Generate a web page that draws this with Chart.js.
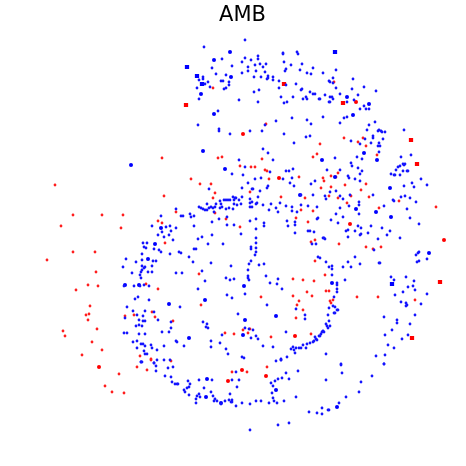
<!DOCTYPE html>
<html>
<head>
<meta charset="utf-8">
<script src="https://cdn.jsdelivr.net/npm/chart.js@4.4.0/dist/chart.umd.min.js"></script>
<style>
  html, body { margin: 0; padding: 0; background: #fff; }
  #scatter { display: block; }
</style>
</head>
<body>
<canvas id="scatter" width="466" height="466"></canvas>
<script>
"use strict";

// values, in the plot's own (unlabelled) units
var blueDots = [
  [245,40],[204,47],[222,59],[245,58],[251,60],[258,56],[258,59],[242,62],[283,54],[283,53],[297,52],[298,54],
  [284,62],[232,66],[212,68],[248,67],[255,65],[260,64],[266,64],[263,67],[291,65],[302,64],[313,68],[286,69],
  [285,71],[300,70],[203,77],[203,79],[199,80],[208,82],[205,84],[216,74],[226,75],[242,73],[248,71],[256,71],
  [265,72],[254,77],[261,77],[268,76],[268,78],[267,79],[273,77],[273,80],[279,81],[286,85],[296,84],[307,73],
  [311,74],[221,81],[223,81],[229,82],[229,85],[197,88],[210,87],[224,89],[226,88],[279,88],[259,90],[254,92],
  [301,90],[302,89],[310,92],[313,94],[315,94],[199,99],[281,97],[293,97],[306,97],[307,99],[303,99],[319,99],
  [239,100],[258,102],[284,103],[287,102],[218,111],[292,118],[307,120],[276,121],[311,124],[198,125],[265,125],
  [219,129],[219,131],[250,131],[262,131],[230,134],[284,134],[306,137],[310,136],[294,143],
  [323,73],[336,70],[333,78],[329,81],[330,82],[333,83],[353,79],[336,88],[352,89],[364,87],[376,91],[325,95],
  [330,97],[332,97],[340,94],[358,95],[320,99],[333,99],[329,102],[330,102],[347,102],[354,100],[364,106],
  [360,109],[366,109],[369,109],[347,117],[344,118],[323,117],[340,123],[375,122],[369,125],[367,130],[378,131],
  [379,130],[382,132],[381,131],[385,132],[404,130],[351,141],[365,139],[373,136],[373,138],[383,139],[371,143],
  [379,143],[360,144],
  [176,209],[161,216],[152,226],[166,227],[170,226],[176,228],[162,232],[171,231],[158,235],[164,237],[169,235],
  [173,240],[143,243],[147,243],[144,247],[146,248],[154,249],[159,250],[161,252],[142,254],[170,254],[179,252],
  [263,149],[268,153],[239,160],[273,160],[245,167],[270,172],[286,171],[289,171],[293,169],[232,174],[243,175],
  [255,179],[261,178],[209,189],[248,183],[242,188],[252,189],[253,189],[260,191],[267,188],[268,186],[283,179],
  [290,183],[292,178],[311,184],[315,181],[294,186],[301,195],[313,195],[199,207],[201,208],[203,209],[205,210],
  [207,210],[207,204],[209,208],[211,207],[213,208],[215,207],[216,204],[220,201],[221,204],[220,208],[224,200],
  [226,200],[228,200],[230,200],[233,197],[235,198],[234,200],[236,198],[239,200],[242,197],[222,207],[226,209],
  [229,208],[234,204],[237,205],[241,204],[233,209],[214,212],[250,199],[258,197],[250,203],[252,202],[256,204],
  [257,203],[250,207],[252,207],[263,205],[271,204],[269,210],[276,208],[280,203],[278,212],[286,206],[292,207],
  [292,211],[301,205],[308,206],[317,207],[297,212],[287,221],[295,222],[295,225],[288,226],[317,219],[318,218],
  [295,233],[308,231],[310,231],[314,232],[312,244],[316,244],[181,216],[183,216],[190,214],[191,217],[194,216],
  [194,226],[212,222],[219,219],[227,217],[227,225],[234,225],[250,221],[256,219],[264,223],[264,226],[256,229],
  [241,234],[212,235],[202,237],[198,239],[256,238],[256,243],[251,247],[251,249],[256,248],[256,252],[208,244],
  [223,244],[194,249],[196,249],[181,253],
  [378,146],[380,146],[379,152],[335,158],[357,157],[362,159],[401,157],[411,155],[351,163],[352,166],[358,168],
  [362,171],[340,170],[327,170],[348,176],[349,178],[360,174],[355,179],[360,181],[336,191],[330,192],[325,196],
  [326,199],[340,196],[343,199],[350,195],[373,195],[349,206],[359,202],[359,205],[340,208],[384,206],[359,214],
  [336,214],[343,217],[331,220],[338,223],[358,226],[361,228],[371,226],[382,228],[346,231],[348,230],[355,231],
  [361,234],[360,235],[368,233],[390,231],[387,235],[348,237],[323,238],[325,239],[324,238],[378,239],[400,238],
  [374,250],[419,252],[418,253],[391,174],[394,175],[395,175],[400,175],[396,170],[398,167],[400,166],[403,171],
  [407,171],[408,171],[404,165],[405,164],[403,164],[421,179],[412,183],[414,187],[427,185],[404,186],[401,197],
  [405,196],[410,198],[416,202],[393,200],[394,201],[407,209],[410,218],[419,224],
  [126,259],[136,262],[142,260],[153,261],[156,261],[123,267],[132,273],[142,266],[144,268],[145,267],[142,270],
  [141,272],[148,272],[152,266],[152,272],[140,275],[141,278],[176,273],[124,286],[134,286],[140,286],[144,285],
  [149,286],[138,297],[135,299],[149,300],[127,307],[133,311],[145,311],[154,312],[125,318],[137,315],[143,316],
  [158,320],[139,320],[143,321],[145,321],[171,322],[139,325],[142,326],[136,326],[171,328],[124,333],[127,333],
  [139,334],[145,334],[162,332],[169,332],[133,342],[137,341],[141,344],[143,344],[137,348],[145,346],[151,345],
  [152,348],[164,346],[176,341],[177,342],[144,351],[145,354],[157,350],[147,354],[141,362],[154,363],[157,360],
  [164,360],[170,360],
  [189,257],[193,262],[211,263],[182,273],[202,271],[205,281],[198,289],[180,307],[255,255],[251,261],[249,264],
  [259,265],[264,264],[231,266],[248,270],[248,276],[248,278],[249,280],[226,278],[230,280],[234,279],[266,276],
  [270,283],[278,279],[277,284],[282,289],[245,294],[227,295],[232,298],[267,305],[238,314],[318,257],[296,309],
  [305,315],[305,319],[203,322],[207,324],[206,327],[208,328],[245,328],[249,329],[253,330],[222,335],[251,338],
  [256,336],[258,339],[286,332],[211,341],[220,343],[211,347],[184,346],[263,346],[273,347],[226,349],[228,354],
  [242,357],[244,358],[276,361],[281,359],[281,360],[287,357],[293,347],[294,350],[296,348],[295,353],[299,348],
  [301,348],[303,345],[306,348],[307,344],[310,343],[313,342],[314,341],[316,339],[317,340],[315,337],[319,336],
  [291,349],
  [320,258],[326,262],[329,267],[332,266],[332,269],[343,267],[348,262],[351,267],[355,257],[360,264],[379,263],
  [380,263],[416,255],[417,262],[419,261],[427,259],[332,275],[345,280],[337,283],[337,285],[337,289],[337,292],
  [334,297],[333,306],[335,307],[329,308],[337,310],[338,310],[334,313],[335,313],[328,315],[329,321],[326,324],
  [327,326],[330,326],[328,328],[323,331],[322,332],[321,334],[320,336],[324,332],[326,354],[341,364],[391,277],
  [394,280],[406,277],[414,281],[408,287],[413,286],[415,290],[403,292],[395,295],[427,294],[401,302],[406,303],
  [407,305],[406,306],[421,304],[415,315],[384,317],[397,320],[397,323],[410,324],[392,330],[385,335],[408,335],
  [402,339],[388,345],[394,348],[376,356],[385,355],[384,364],
  [141,362],[142,362],[154,363],[156,366],[156,371],[168,368],[173,367],[165,376],[171,377],[172,382],[175,384],
  [177,384],[178,384],
  [236,372],[232,380],[239,380],[281,360],[286,373],[298,371],[278,379],[282,378],[289,379],[271,383],[275,381],
  [273,386],[272,393],[188,381],[190,384],[189,387],[187,388],[184,390],[185,392],[189,395],[199,380],[212,380],
  [204,388],[211,392],[199,394],[197,396],[200,397],[196,399],[196,403],[213,396],[215,399],[214,401],[217,401],
  [221,404],[225,401],[230,394],[237,387],[229,400],[231,402],[232,400],[232,402],[236,406],[242,403],[250,404],
  [256,401],[261,401],[269,403],[273,398],[274,401],[277,403],[284,401],[296,397],[309,412],[317,413],[289,423],
  [278,425],[250,430],
  [341,365],[384,364],[342,373],[372,376],[326,380],[361,382],[359,392],[346,397],[339,403],[322,408],[328,410],
  [329,410],[322,414]
];

var blueBold = [
  [230,52],[214,60],[231,77],[201,94],[214,114],[347,97],[369,104],[353,115],[131,165],[161,228],[155,244],
  [203,151],[225,169],[300,195],[364,153],[322,160],[377,160],[335,177],[356,209],[376,212],[391,217],[429,253],
  [390,188],[148,259],[125,285],[139,285],[169,304],[205,300],[244,286],[245,320],[276,316],[243,335],[189,338],
  [332,283],[276,390],[207,379],[206,397],[221,403],[337,407]
];

var blueSquares = [[187,67],[197,76],[202,84],[335,52],[392,284]];

var redDots = [
  [213,88],[266,124],[334,82],[344,138],[358,142],[363,138],[320,144],
  [162,158],[55,185],[164,196],[73,215],[102,215],[123,215],[176,212],[158,221],[162,223],[61,226],[121,228],
  [165,243],[73,252],[95,252],
  [218,158],[222,157],[262,159],[317,154],[313,157],[240,166],[251,167],[255,167],[265,170],[267,171],[269,179],
  [191,179],[200,184],[211,184],[215,193],[250,192],[299,177],[305,198],[281,197],[213,198],[215,213],[301,210],
  [313,211],[296,218],[308,222],[315,240],[311,242],[226,219],[240,227],
  [366,146],[377,155],[338,173],[336,177],[331,176],[323,178],[324,181],[345,185],[366,184],[331,187],[321,188],
  [361,190],[329,196],[338,198],[351,196],[369,197],[347,203],[379,208],[339,244],[366,247],[373,249],[381,247],
  [399,201],[436,207],
  [47,260],[96,272],[88,285],[98,286],[76,290],[90,306],[86,315],[89,314],[88,320],[97,329],[63,331],[65,336],
  [92,342],[102,350],[82,355],[146,284],[158,289],[152,312],[125,316],[134,315],[155,317],[173,321],[140,356],
  [151,359],
  [199,274],[201,305],[315,261],[293,279],[303,280],[314,281],[307,292],[293,296],[312,296],[299,301],[297,305],
  [303,310],[296,318],[243,330],[250,329],[234,334],[225,333],[248,333],[261,297],[271,337],[311,334],
  [325,275],[326,291],[329,291],[357,297],[378,297],[330,301],[333,300],[331,303],[415,300],
  [119,374],[105,386],[112,392],[124,393],[137,367],[147,370],[151,360],[171,361],
  [232,372],[247,372],[267,367]
];

var redBold = [
  [243,134],[356,102],[279,178],[350,224],[444,240],[295,336],[99,367],[242,370],[228,381],[266,376]
];

var redSquares = [[186,105],[284,84],[343,103],[411,140],[417,164],[440,282],[412,338]];

function pts(list) {
  return list.map(function (p) { return { x: p[0], y: p[1] }; });
}

var ctx = document.getElementById('scatter').getContext('2d');
var myChart = new Chart(ctx, {
  type: 'scatter',
  data: {
    datasets: [
      {
        label: 'blue',
        data: pts(blueDots),
        pointStyle: 'circle',
        pointRadius: 1.4,
        backgroundColor: 'rgb(20, 20, 255)',
        borderWidth: 0
      },
      {
        label: 'blue bold',
        data: pts(blueBold),
        pointStyle: 'circle',
        pointRadius: 2,
        backgroundColor: 'rgb(0, 0, 255)',
        borderWidth: 0
      },
      {
        label: 'blue squares',
        data: pts(blueSquares),
        pointStyle: 'rect',
        pointRadius: 3,
        backgroundColor: 'rgb(0, 0, 255)',
        borderWidth: 0
      },
      {
        label: 'red',
        data: pts(redDots),
        pointStyle: 'circle',
        pointRadius: 1.4,
        backgroundColor: 'rgb(255, 30, 30)',
        borderWidth: 0
      },
      {
        label: 'red bold',
        data: pts(redBold),
        pointStyle: 'circle',
        pointRadius: 2,
        backgroundColor: 'rgb(255, 0, 0)',
        borderWidth: 0
      },
      {
        label: 'red squares',
        data: pts(redSquares),
        pointStyle: 'rect',
        pointRadius: 3,
        backgroundColor: 'rgb(255, 0, 0)',
        borderWidth: 0
      }
    ]
  },
  options: {
    responsive: false,
    animation: false,
    devicePixelRatio: 1,
    layout: {
      autoPadding: false,
      padding: { left: 19, right: 0, top: 0, bottom: 0 }
    },
    plugins: {
      legend: { display: false },
      tooltip: { enabled: false },
      title: {
        display: true,
        text: 'AMB',
        color: '#000',
        font: { family: 'DejaVu Sans', size: 21, weight: 'normal', lineHeight: 1.2 },
        padding: { top: 3, bottom: 4 }
      }
    },
    scales: {
      x: { type: 'linear', display: false, min: 19, max: 466 },
      y: { type: 'linear', display: false, min: 32.2, max: 466, reverse: true }
    }
  }
});
</script>
</body>
</html>
